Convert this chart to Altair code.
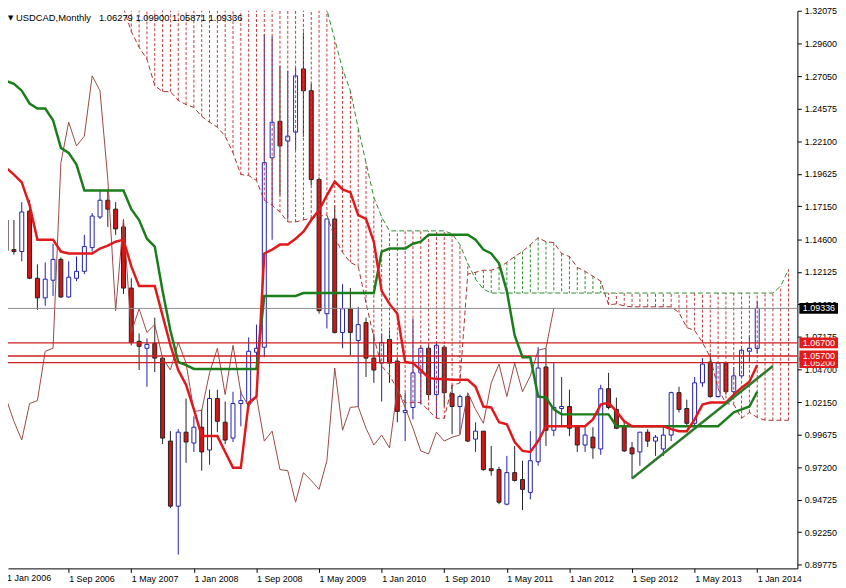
import altair as alt
import pandas as pd

# ---------------- data ----------------
symbol = "USDCAD"
timeframe = "Monthly"
last_ohlc = ["1.06279", "1.09900", "1.05871", "1.09336"]

# monthly candles, index 0 = Jan 2006 ... 96 = Jan 2014
opens = [1.1609, 1.1383, 1.1368, 1.1677, 1.1164, 1.1014, 1.1149, 1.1308, 1.1021, 1.1164,
         1.1217, 1.1398, 1.1632, 1.1760, 1.1692, 1.1556, 1.1089, 1.0682, 1.0629, 1.0667,
         1.0554, 0.9920, 0.9423, 0.9988, 0.9905, 1.0026, 0.9852, 1.0245, 1.0064, 0.9943,
         1.0207, 1.0207, 1.0599, 1.0637, 1.2084, 1.2363, 1.2212, 1.2280, 1.2763, 1.2597,
         1.1918, 1.0893, 1.1617, 1.0750, 1.0931, 1.0689, 1.0825, 1.0554, 1.0516, 1.0697,
         1.0531, 1.0139, 1.0177, 1.0441, 1.0629, 1.0275, 1.0637, 1.0282, 1.0184, 1.0260,
         0.9935, 0.9996, 0.9709, 0.9702, 0.9438, 0.9679, 0.9626, 0.9528, 0.9762, 1.0486,
         1.0003, 1.0169, 1.0184, 1.0026, 0.9890, 0.9950, 0.9860, 1.0320, 1.0162, 1.0033,
         0.9868, 0.9837, 0.9988, 0.9920, 0.9860, 0.9966, 1.0290, 1.0169, 1.0056, 1.0365,
         1.0524, 1.0260, 1.0516, 1.0297, 1.0418, 1.0606, 1.0628]
highs = [1.1745, 1.1609, 1.1745, 1.1760, 1.1270, 1.1285, 1.1428, 1.1323, 1.1293, 1.1330,
         1.1496, 1.1662, 1.1835, 1.1843, 1.1745, 1.1609, 1.1164, 1.0742, 1.0704, 1.0863,
         1.0554, 0.9996, 1.0011, 1.0245, 1.0109, 1.0162, 1.0312, 1.0312, 1.0222, 1.0297,
         1.0305, 1.0712, 1.0810, 1.3027, 1.3012, 1.2786, 1.2748, 1.2770, 1.3042, 1.2650,
         1.1933, 1.1617, 1.1722, 1.1119, 1.1089, 1.0946, 1.0863, 1.0742, 1.0742, 1.0765,
         1.0554, 1.0290, 1.0855, 1.0652, 1.0652, 1.0667, 1.0652, 1.0350, 1.0275, 1.0275,
         1.0064, 0.9996, 0.9883, 0.9724, 0.9807, 0.9883, 0.9770, 0.9996, 1.0637, 1.0629,
         1.0516, 1.0410, 1.0312, 1.0033, 1.0026, 1.0026, 1.0350, 1.0441, 1.0252, 1.0071,
         0.9913, 0.9988, 1.0011, 0.9966, 1.0026, 1.0297, 1.0335, 1.0237, 1.0410, 1.0554,
         1.0591, 1.0524, 1.0524, 1.0486, 1.0629, 1.0727, 1.0990]
lows = [1.1353, 1.1345, 1.1293, 1.1157, 1.0923, 1.0953, 1.1029, 1.1014, 1.1014, 1.1142,
        1.1195, 1.1368, 1.1617, 1.1556, 1.1496, 1.1044, 1.0652, 1.0463, 1.0335, 1.0448,
        0.9898, 0.9408, 0.9053, 0.9754, 0.9837, 0.9694, 0.9739, 0.9988, 0.9898, 0.9913,
        1.0033, 1.0162, 1.0516, 1.0561, 1.1458, 1.1798, 1.1617, 1.2145, 1.2245, 1.1873,
        1.0893, 1.0780, 1.0742, 1.0629, 1.0576, 1.0184, 1.0410, 1.0365, 1.0222, 1.0365,
        1.0064, 0.9920, 1.0086, 1.0199, 1.0237, 1.0101, 1.0184, 0.9973, 0.9973, 0.9913,
        0.9837, 0.9694, 0.9656, 0.9438, 0.9430, 0.9611, 0.9393, 0.9475, 0.9732, 0.9883,
        0.9958, 1.0033, 0.9958, 0.9837, 0.9837, 0.9785, 0.9815, 1.0162, 1.0011, 0.9837,
        0.9634, 0.9732, 0.9875, 0.9807, 0.9807, 0.9920, 1.0139, 1.0033, 1.0033, 1.0335,
        1.0252, 1.0252, 1.0275, 1.0275, 1.0403, 1.0524, 1.0587]
closes = [1.1376, 1.1368, 1.1670, 1.1164, 1.1014, 1.1157, 1.1308, 1.1021, 1.1172, 1.1217,
          1.1406, 1.1639, 1.1760, 1.1692, 1.1541, 1.1089, 1.0674, 1.0644, 1.0659, 1.0554,
          0.9943, 0.9423, 0.9988, 0.9913, 1.0026, 0.9837, 1.0245, 1.0071, 0.9928, 1.0207,
          1.0229, 1.0606, 1.0629, 1.2047, 1.2356, 1.2175, 1.2250, 1.2710, 1.2597, 1.1918,
          1.0916, 1.1617, 1.0750, 1.0931, 1.0750, 1.0810, 1.0554, 1.0463, 1.0674, 1.0516,
          1.0147, 1.0154, 1.0441, 1.0629, 1.0275, 1.0652, 1.0290, 1.0184, 1.0260, 0.9920,
          0.9996, 0.9702, 0.9694, 0.9453, 0.9679, 0.9619, 0.9551, 0.9770, 1.0478, 1.0003,
          1.0177, 1.0184, 1.0018, 0.9890, 0.9966, 0.9868, 1.0320, 1.0177, 1.0018, 0.9845,
          0.9822, 0.9988, 0.9920, 0.9950, 0.9966, 1.0290, 1.0162, 1.0056, 1.0365, 1.0508,
          1.0260, 1.0516, 1.0297, 1.0418, 1.0614, 1.0629, 1.0934]

# Ichimoku lines
tenkan = [1.2009, 1.1956, 1.1896, 1.1722, 1.1459, 1.1459, 1.1459, 1.1368, 1.1353, 1.1353,
          1.1353, 1.1353, 1.1391, 1.1413, 1.1443, 1.1459, 1.1255, 1.1104, 1.1104, 1.1104,
          1.0878, 1.0652, 1.0463, 1.0350, 1.0162, 0.9958, 0.9958, 0.9958, 0.9837, 0.9717,
          0.9717, 1.0214, 1.0260, 1.1353, 1.1383, 1.1421, 1.1421, 1.1466, 1.1519, 1.1609,
          1.1685, 1.1798, 1.1903, 1.1843, 1.1820, 1.1647, 1.1617, 1.1443, 1.1066, 1.0968,
          1.0893, 1.0524, 1.0516, 1.0463, 1.0403, 1.0395, 1.0395, 1.0388, 1.0388, 1.0388,
          1.0335, 1.0184, 1.0177, 1.0064, 1.0049, 0.9913, 0.9845, 0.9837, 0.9920, 1.0033,
          1.0033, 1.0033, 1.0033, 1.0033, 1.0033, 1.0086, 1.0199, 1.0214, 1.0147, 1.0071,
          1.0033, 1.0033, 1.0033, 1.0033, 1.0033, 1.0011, 0.9996, 0.9996, 1.0086, 1.0199,
          1.0214, 1.0214, 1.0214, 1.0275, 1.0328, 1.0373, 1.0501]
kijun = [1.2672, 1.2650, 1.2597, 1.2499, 1.2461, 1.2461, 1.2371, 1.2160, 1.2122, 1.2032,
         1.1835, 1.1835, 1.1835, 1.1835, 1.1835, 1.1835, 1.1692, 1.1609, 1.1466, 1.1406,
         1.1066, 1.0765, 1.0524, 1.0501, 1.0471, 1.0471, 1.0471, 1.0471, 1.0471, 1.0471,
         1.0471, 1.0471, 1.0471, 1.1029, 1.1029, 1.1029, 1.1029, 1.1029, 1.1051, 1.1051,
         1.1051, 1.1051, 1.1051, 1.1051, 1.1051, 1.1051, 1.1051, 1.1051, 1.1368, 1.1391,
         1.1391, 1.1391, 1.1428, 1.1443, 1.1496, 1.1496, 1.1496, 1.1496, 1.1496, 1.1496,
         1.1458, 1.1383, 1.1353, 1.1278, 1.1066, 1.0727, 1.0561, 1.0561, 1.0260, 1.0252,
         1.0162, 1.0124, 1.0124, 1.0124, 1.0124, 1.0124, 1.0124, 1.0124, 1.0033, 1.0033,
         1.0033, 1.0033, 1.0033, 1.0033, 1.0033, 1.0033, 1.0033, 1.0033, 1.0033, 1.0033,
         1.0033, 1.0033, 1.0086, 1.0139, 1.0162, 1.0184, 1.0297]
# cloud, bar index 15 ... 100 (projected 26 bars ahead)
cloud_start = 15
senkou_a = [1.3230, 1.3049, 1.2929, 1.2838, 1.2635, 1.2590, 1.2590, 1.2522, 1.2491, 1.2469,
            1.2401, 1.2356, 1.2318, 1.2250, 1.2122, 1.1956, 1.1949, 1.1911, 1.1760, 1.1722,
            1.1670, 1.1594, 1.1594, 1.1609, 1.1624, 1.1639, 1.1647, 1.1474, 1.1361, 1.1285,
            1.1255, 1.0976, 1.0712, 1.0493, 1.0426, 1.0312, 1.0214, 1.0214, 1.0214, 1.0154,
            1.0094, 1.0094, 1.0343, 1.0365, 1.1195, 1.1210, 1.1225, 1.1225, 1.1247, 1.1285,
            1.1330, 1.1368, 1.1421, 1.1474, 1.1443, 1.1436, 1.1353, 1.1330, 1.1247, 1.1217,
            1.1180, 1.1142, 1.0961, 1.0968, 1.0953, 1.0946, 1.0946, 1.0946, 1.0946, 1.0946,
            1.0946, 1.0901, 1.0787, 1.0765, 1.0674, 1.0561, 1.0320, 1.0207, 1.0199, 1.0094,
            1.0139, 1.0101, 1.0079, 1.0079, 1.0079, 1.0079]
senkou_b = [1.3980, 1.3980, 1.3980, 1.3980, 1.3980, 1.3900, 1.3900, 1.3850, 1.3850, 1.3850,
            1.3800, 1.3800, 1.3750, 1.3700, 1.3700, 1.3650, 1.3600, 1.3600, 1.3550, 1.3500,
            1.3500, 1.3450, 1.3450, 1.3400, 1.3350, 1.3300, 1.3215, 1.2989, 1.2763, 1.2597,
            1.2311, 1.2047, 1.1783, 1.1632, 1.1526, 1.1526, 1.1526, 1.1526, 1.1526, 1.1526,
            1.1526, 1.1526, 1.1504, 1.1421, 1.1278, 1.1157, 1.1082, 1.1051, 1.1051, 1.1051,
            1.1051, 1.1051, 1.1051, 1.1051, 1.1051, 1.1051, 1.1051, 1.1051, 1.1051, 1.1051,
            1.1051, 1.1051, 1.1051, 1.1051, 1.1051, 1.1051, 1.1051, 1.1051, 1.1051, 1.1051,
            1.1051, 1.1051, 1.1051, 1.1051, 1.1051, 1.1051, 1.1051, 1.1051, 1.1051, 1.1051,
            1.1051, 1.1051, 1.1051, 1.1051, 1.1104, 1.1232]
chikou_shift = 26

# hand-drawn objects
trend_idx = [80, 98]
trend_val = [0.9634, 1.0493]
current_price = 1.09336
support_levels = [1.0520, 1.0570, 1.0670]

x_tick_idx = [0, 8, 16, 24, 32, 40, 48, 56, 64, 72, 80, 88, 96]
x_tick_labels = ["1 Jan 2006", "1 Sep 2006", "1 May 2007", "1 Jan 2008", "1 Sep 2008",
                 "1 May 2009", "1 Jan 2010", "1 Sep 2010", "1 May 2011", "1 Jan 2012",
                 "1 Sep 2012", "1 May 2013", "1 Jan 2014"]
y_ticks = [1.32075, 1.29600, 1.27050, 1.24575, 1.22100, 1.19625, 1.17150, 1.14600,
           1.12125, 1.09650, 1.07175, 1.04700, 1.02150, 0.99675, 0.97200, 0.94725,
           0.92250, 0.89775]

# ---------------- tables ----------------
n = len(closes)
cdf = pd.DataFrame({"idx": list(range(n)), "open": opens, "high": highs,
                    "low": lows, "close": closes})
cdf["dir"] = ["bull" if c >= o else "bear" for o, c in zip(opens, closes)]
ich = pd.DataFrame({"idx": list(range(n)), "tenkan": tenkan, "kijun": kijun})
chk = pd.DataFrame({"idx": [i - chikou_shift for i in range(n)], "value": closes})
cl = pd.DataFrame({"idx": list(range(cloud_start, cloud_start + len(senkou_a))),
                   "a": senkou_a, "b": senkou_b})
cl["kind"] = ["up" if a > b else "down" for a, b in zip(senkou_a, senkou_b)]
tr = pd.DataFrame({"idx": trend_idx, "value": trend_val})
levels = pd.DataFrame({"value": support_levels})
cur = pd.DataFrame({"value": [current_price]})

FONT = "Liberation Sans"
W, H = 797, 563
xscale = alt.Scale(domain=[0.875, 100.5], nice=False, zero=False)
yscale = alt.Scale(domain=[0.89474, 1.32075], nice=False, zero=False)
label_arr = "[" + ",".join("'%s'" % s for s in x_tick_labels) + "]"
xaxis = alt.Axis(values=x_tick_idx[1:], labelExpr=label_arr + "[round(datum.value/8)]",
                 title=None, grid=False, labelAlign="left", labelBaseline="top",
                 labelPadding=2, tickSize=4, labelFlush=False, labelOverlap=False,
                 labelFont=FONT, labelFontSize=9, labelColor="black",
                 domainColor="black", tickColor="black")
yaxis = alt.Axis(orient="right", values=y_ticks, format=".5f", title=None, grid=False,
                 tickSize=4, labelPadding=3, labelFont=FONT, labelFontSize=9,
                 labelColor="black", domainColor="black", tickColor="black",
                 labelFlush=False, labelOverlap=False)


def X(f="idx"):
    return alt.X(f + ":Q", scale=xscale, axis=xaxis)


def Y(f):
    return alt.Y(f + ":Q", scale=yscale, axis=yaxis)


BULL = "#1f1fb0"
BEAR_FILL = "#d41515"
BEAR_LINE = "#222222"

base_c = alt.Chart(cdf)
wick_bull = base_c.transform_filter("datum.dir == 'bull'").mark_rule(
    color=BULL, strokeWidth=1, clip=True).encode(x=X(), y=Y("low"), y2="high")
wick_bear = base_c.transform_filter("datum.dir == 'bear'").mark_rule(
    color=BEAR_LINE, strokeWidth=1, clip=True).encode(x=X(), y=Y("low"), y2="high")
body_bull = base_c.transform_filter("datum.dir == 'bull'").mark_bar(
    width=4, fill="white", stroke=BULL, strokeWidth=1, clip=True).encode(
    x=X(), y=Y("open"), y2="close")
body_bear = base_c.transform_filter("datum.dir == 'bear'").mark_bar(
    width=4, fill=BEAR_FILL, stroke=BEAR_LINE, strokeWidth=1, clip=True).encode(
    x=X(), y=Y("open"), y2="close")

base_cl = alt.Chart(cl)
hatch_dn = base_cl.transform_filter("datum.kind == 'down'").mark_rule(
    color="#c43c3c", strokeWidth=1, strokeDash=[3, 2], clip=True).encode(
    x=X(), y=Y("a"), y2="b")
hatch_up = base_cl.transform_filter("datum.kind == 'up'").mark_rule(
    color="#2f8a2f", strokeWidth=1, strokeDash=[3, 2], clip=True).encode(
    x=X(), y=Y("a"), y2="b")
span_a = base_cl.mark_line(color="#a83232", strokeWidth=1, strokeDash=[5, 3],
                           clip=True).encode(x=X(), y=Y("a"))
span_b = base_cl.mark_line(color="#2f8a2f", strokeWidth=1, strokeDash=[5, 3],
                           clip=True).encode(x=X(), y=Y("b"))

chikou = alt.Chart(chk).mark_line(color="#9a4a44", strokeWidth=1, clip=True).encode(
    x=X(), y=Y("value"))

cur_line = alt.Chart(cur).mark_rule(color="#8c8c8c", strokeWidth=1).encode(y=Y("value"))
lvl_line = alt.Chart(levels).mark_rule(color="#cc1f1f", strokeWidth=1.3).encode(y=Y("value"))

kij = alt.Chart(ich).mark_line(color="#1b7d1b", strokeWidth=2.5, clip=True).encode(
    x=X(), y=Y("kijun"))
ten = alt.Chart(ich).mark_line(color="#e0191c", strokeWidth=2.5, clip=True).encode(
    x=X(), y=Y("tenkan"))
trend = alt.Chart(tr).mark_line(color="#2b7a2b", strokeWidth=2.5, clip=True).encode(
    x=X(), y=Y("value"))

first_lbl = alt.Chart(pd.DataFrame({"idx": [x_tick_idx[0]], "t": [x_tick_labels[0]]})).mark_text(
    align="left", baseline="top", font=FONT, fontSize=9, color="black", dx=1).encode(
    x=X(), y=alt.value(H + 6), text="t:N")

title_df = pd.DataFrame({"t": [symbol + "," + timeframe + "\u00a0\u00a0\u00a0" + "\u00a0".join(last_ohlc)],
                         "m": ["\u25bc"]})
title_txt = alt.Chart(title_df).mark_text(
    align="left", baseline="alphabetic", font=FONT, fontSize=9.5, color="black").encode(
    x=alt.value(8), y=alt.value(10), text="t:N")
title_tri = alt.Chart(title_df).mark_text(
    align="left", baseline="alphabetic", font="DejaVu Sans", fontSize=7, color="black").encode(
    x=alt.value(0), y=alt.value(9), text="m:N")

# price tags on the right axis
tags = [(1.0520, "1.05200", "#e01b1b"), (1.0570, "1.05700", "#e01b1b"),
        (1.0670, "1.06700", "#e01b1b"), (current_price, "1.09336", "#000000")]
tag_layers = []
for v, s, c in tags:
    tdf = pd.DataFrame({"value": [v], "label": [s]})
    tag_layers.append(alt.Chart(tdf).mark_tick(
        orient="horizontal", thickness=11, size=39, color=c, opacity=1, clip=False).encode(
        y=Y("value"), x=alt.value(818.5)))
    tag_layers.append(alt.Chart(tdf).mark_text(
        align="left", baseline="middle", font=FONT, fontSize=9, color="white").encode(
        y=Y("value"), x=alt.value(802.5), text="label:N"))

chart = alt.layer(
    wick_bull, wick_bear, body_bull, body_bear,
    hatch_dn, hatch_up, span_a, span_b, chikou,
    cur_line, lvl_line, kij, ten, trend,
    first_lbl, title_tri, title_txt, *tag_layers
).properties(
    width=W, height=H,
    padding={"left": 0, "top": 0, "right": 41, "bottom": 17},
    autosize=alt.AutoSizeParams(type="none"),
    background="white",
).configure_view(stroke=None)

chart.save("out.html", embed_options={"renderer": "svg", "actions": False})
